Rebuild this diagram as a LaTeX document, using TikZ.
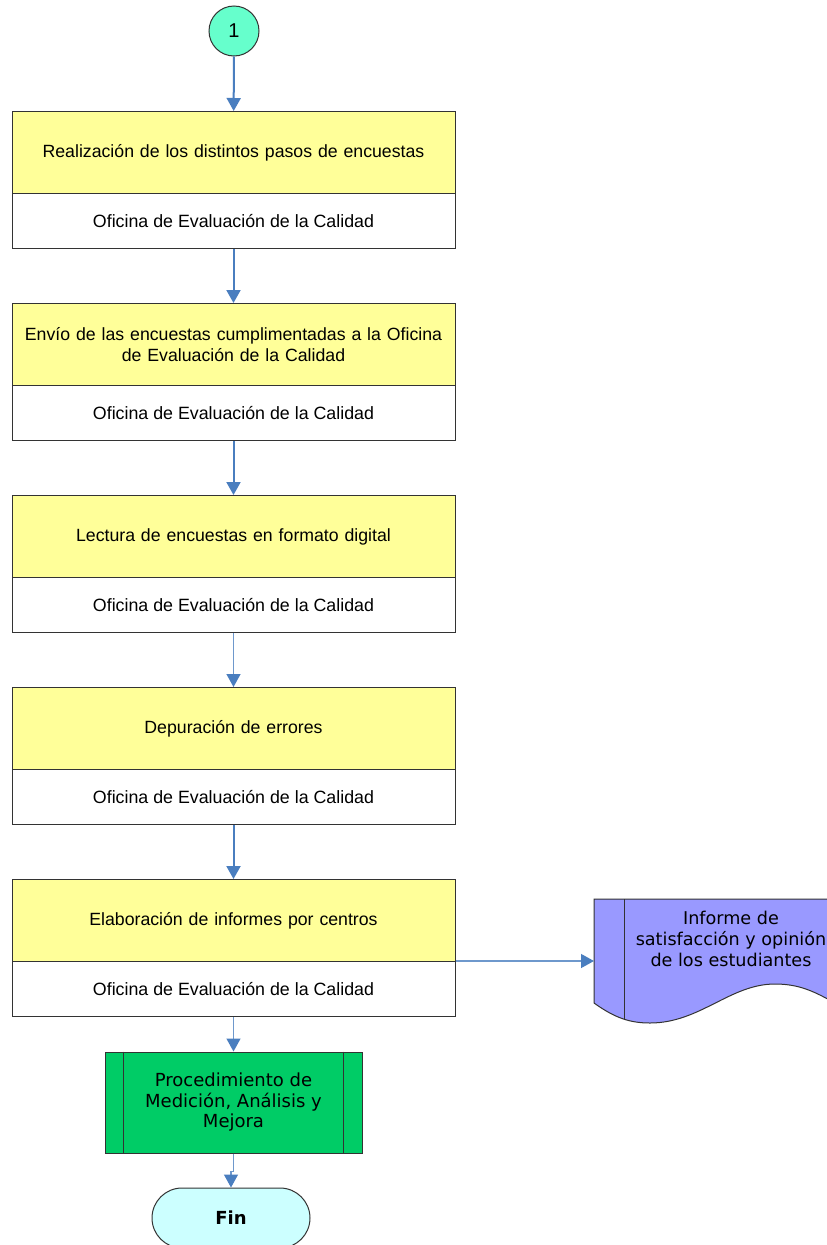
\documentclass[tikz,border=0pt]{standalone}
\usepackage{fontspec}
\setmainfont{Liberation Sans}
\newfontfamily\verd{DejaVu Sans}
\usetikzlibrary{arrows.meta,shapes.misc}
\definecolor{ybox}{HTML}{FFFF99}
\definecolor{conn}{HTML}{4A7EBF}
\definecolor{aqua}{HTML}{66FFCC}
\definecolor{docfill}{HTML}{9999FF}
\definecolor{gfill}{HTML}{00CC66}
\definecolor{finfill}{HTML}{CCFFFF}
\definecolor{edge}{HTML}{333333}
\tikzset{
  yboxst/.style={draw=edge,line width=1pt,fill=ybox,minimum width=443pt,minimum height=82pt,
    anchor=north,align=center,text width=436pt,font=\fontsize{17.7}{21}\selectfont,inner sep=0pt},
  wboxst/.style={draw=edge,line width=1pt,fill=white,minimum width=443pt,minimum height=55pt,
    anchor=north,align=center,font=\fontsize{17.8}{21}\selectfont,inner sep=0pt},
  thick arrow/.style={draw=conn,line width=2pt,-{Triangle[width=14pt,length=13pt]}},
  thin arrow/.style={draw=conn!80,line width=1.3pt,-{Triangle[width=14pt,length=13pt,color=conn]}},
}
\begin{document}
\begin{tikzpicture}[x=1pt,y=-1pt]
\useasboundingbox (0,0) rectangle (827,1245);
\fill[white] (0,0) rectangle (827,1245);
% start connector
\node[circle,draw=edge,line width=1pt,fill=aqua,minimum size=50pt,inner sep=0pt,
  font=\fontsize{20}{22}\selectfont] (c1) at (234,31) {1};
% boxes
\node[yboxst] (y1) at (233.5,111) {Realización de los distintos pasos de encuestas};
\node[wboxst] (w1) at (233.5,193) {Oficina de Evaluación de la Calidad};
\node[yboxst] (y2) at (233.5,303) {Envío de las encuestas cumplimentadas a la Oficina\\de Evaluación de la Calidad};
\node[wboxst] (w2) at (233.5,385) {Oficina de Evaluación de la Calidad};
\node[yboxst] (y3) at (233.5,495) {Lectura de encuestas en formato digital};
\node[wboxst] (w3) at (233.5,577) {Oficina de Evaluación de la Calidad};
\node[yboxst] (y4) at (233.5,687) {Depuración de errores};
\node[wboxst] (w4) at (233.5,769) {Oficina de Evaluación de la Calidad};
\node[yboxst] (y5) at (233.5,879) {Elaboración de informes por centros};
\node[wboxst] (w5) at (233.5,961) {Oficina de Evaluación de la Calidad};
% predefined process
\node[draw=edge,line width=1pt,fill=gfill,minimum width=257pt,minimum height=101pt,inner sep=0pt,
  align=center,font=\verd\fontsize{18}{20.5}\selectfont] (g) at (233.5,1102.5)
  {Procedimiento de\\Medición, Análisis y\\Mejora};
\draw[edge,line width=1pt] ([xshift=19pt]g.north west) -- ([xshift=19pt]g.south west);
\draw[edge,line width=1pt] ([xshift=-19pt]g.north east) -- ([xshift=-19pt]g.south east);
% end terminator
\node[rounded rectangle,draw=edge,line width=1pt,fill=finfill,minimum width=158pt,minimum height=60pt,
  inner sep=0pt,font=\verd\bfseries\fontsize{18}{20}\selectfont] (fin) at (231,1218) {Fin};
% document
\draw[edge,line width=1pt,fill=docfill] (594,899) -- (870,899) -- (870,1010)
  .. controls (860,1005) and (845,999) .. (835,1003)
  -- (835,1003) .. controls (815,992) and (800,984) .. (775,984)
  .. controls (730,984) and (700,1023) .. (650,1023)
  .. controls (630,1023) and (615,1018) .. (594,1003) -- cycle;
\draw[edge,line width=1pt] (624,899) -- (624,1019);
\node[inner sep=0pt,minimum width=10pt,minimum height=124pt,anchor=west] (doc) at (594,961) {};
\node[align=center,font=\verd\fontsize{17.6}{21}\selectfont] (doct) at (731,939)
  {Informe de\\satisfacción y opinión\\de los estudiantes};
% connectors
\draw[thick arrow] (c1) -- (y1);
\draw[thick arrow] (w1) -- (y2);
\draw[thick arrow] (w2) -- (y3);
\draw[thin arrow] (w3) -- (y4);
\draw[thick arrow] (w4) -- (y5);
\draw[thin arrow] (w5.south) -- (g.north);
\draw[thin arrow] (w5.north east) -- (doc.west);
\draw[thin arrow] (g.south) -- ++(0,18) -| (fin.north);
\end{tikzpicture}
\end{document}
